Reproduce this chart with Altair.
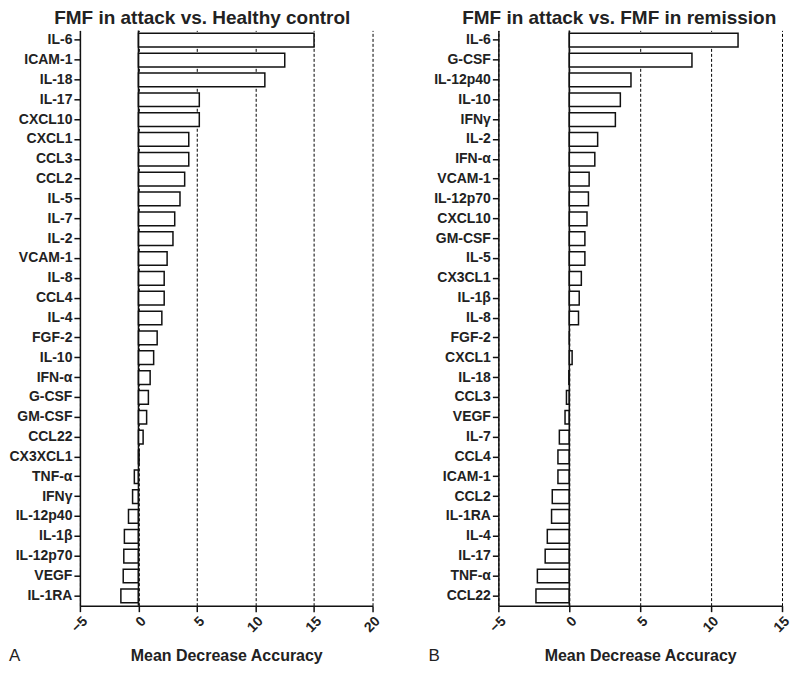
import altair as alt
import pandas as pd

# ---- data ----
left_title = "FMF in attack vs. Healthy control"
left_names = ["IL-6", "ICAM-1", "IL-18", "IL-17", "CXCL10", "CXCL1", "CCL3", "CCL2",
              "IL-5", "IL-7", "IL-2", "VCAM-1", "IL-8", "CCL4", "IL-4", "FGF-2",
              "IL-10", "IFN-α", "G-CSF", "GM-CSF", "CCL22", "CX3XCL1", "TNF-α",
              "IFNγ", "IL-12p40", "IL-1β", "IL-12p70", "VEGF", "IL-1RA"]
left_vals = [15.0, 12.5, 10.8, 5.2, 5.2, 4.3, 4.3, 3.95,
             3.55, 3.1, 2.95, 2.45, 2.2, 2.2, 2.0, 1.6,
             1.3, 1.0, 0.85, 0.7, 0.4, 0.05, -0.35,
             -0.5, -0.85, -1.2, -1.25, -1.3, -1.5]
left_ticks = [-5, 0, 5, 10, 15, 20]

right_title = "FMF in attack vs. FMF in remission"
right_names = ["IL-6", "G-CSF", "IL-12p40", "IL-10", "IFNγ", "IL-2", "IFN-α", "VCAM-1",
               "IL-12p70", "CXCL10", "GM-CSF", "IL-5", "CX3CL1", "IL-1β", "IL-8",
               "FGF-2", "CXCL1", "IL-18", "CCL3", "VEGF", "IL-7", "CCL4", "ICAM-1",
               "CCL2", "IL-1RA", "IL-4", "IL-17", "TNF-α", "CCL22"]
right_vals = [11.9, 8.65, 4.35, 3.6, 3.25, 2.0, 1.8, 1.4,
              1.35, 1.25, 1.1, 1.1, 0.85, 0.7, 0.65,
              0.0, 0.2, -0.03, -0.2, -0.3, -0.7, -0.8, -0.8,
              -1.2, -1.25, -1.55, -1.7, -2.25, -2.35]
right_ticks = [-5, 0, 5, 10, 15]

x_title = "Mean Decrease Accuracy"
panel_letters = ["A", "B"]

FONT = "Liberation Sans"
H = 576


def panel(names, vals, ticks, title, letter, width, letter_x, title_dx):
    df = pd.DataFrame({"name": names, "value": vals})
    xscale = alt.Scale(domain=[ticks[0], ticks[-1]], nice=False, zero=False)
    x = alt.X("value:Q", scale=xscale,
              axis=alt.Axis(values=ticks, labelAngle=-45, grid=True,
                            gridDash=[3, 2], gridColor="#000", gridWidth=1,
                            title=x_title, titlePadding=13))
    y = alt.Y("name:N", sort=names,
              scale=alt.Scale(paddingInner=0.31, paddingOuter=0.15),
              axis=alt.Axis(title=None))
    bars = alt.Chart(df).mark_bar(fill="white", stroke="#111",
                                  strokeWidth=1.5).encode(x=x, y=y)
    zero = alt.Chart(pd.DataFrame({"z": [0]})).mark_rule(
        color="#111", strokeWidth=1.5).encode(x=alt.X("z:Q", scale=xscale))
    lab = alt.Chart(pd.DataFrame({"t": [letter]})).mark_text(
        font=FONT, fontSize=17, align="left", baseline="middle", color="#222"
    ).encode(text="t:N", x=alt.value(letter_x), y=alt.value(H + 50))
    return alt.layer(bars, zero, lab).properties(
        width=width, height=H,
        title=alt.TitleParams(title, fontSize=19, fontWeight="bold", font=FONT,
                              anchor="middle", frame="group", dx=title_dx,
                              offset=2, color="#222"))


left = panel(left_names, left_vals, left_ticks, left_title, panel_letters[0], 293, -71, -24)
right = panel(right_names, right_vals, right_ticks, right_title, panel_letters[1], 284, -70, -21)

chart = alt.hconcat(left, right, spacing=46).configure(
    padding=0, font=FONT
).configure_view(stroke=None).configure_axis(
    domainColor="#111", domainWidth=1.5, tickColor="#111", tickWidth=1.5,
    tickSize=6, labelFont=FONT, labelFontWeight="bold", labelFontSize=14,
    labelColor="#222", labelPadding=2, titleFont=FONT, titleFontSize=16,
    titleFontWeight="bold", titleColor="#222"
)

chart.save("out.html", embed_options={"renderer": "svg", "actions": False})
